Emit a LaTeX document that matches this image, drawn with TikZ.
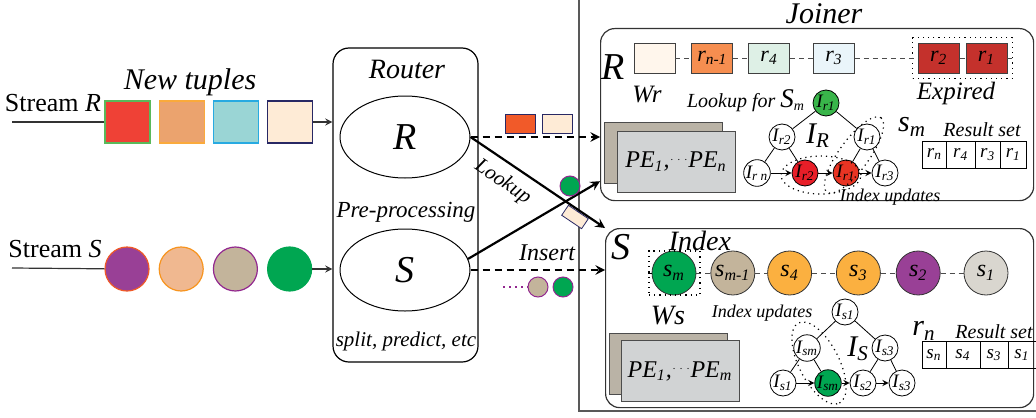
\documentclass[tikz,border=0pt]{standalone}
\usepackage{fontspec}
\setmainfont{Liberation Serif}
\usetikzlibrary{positioning,fit,shapes.geometric}
\definecolor{tupred}{RGB}{239,65,54}
\definecolor{tuporange}{RGB}{235,163,110}
\definecolor{tupteal}{RGB}{154,213,213}
\definecolor{tupcream}{RGB}{254,235,214}
\definecolor{bdgreen}{RGB}{90,185,90}
\definecolor{bdorange}{RGB}{250,170,60}
\definecolor{bdblue}{RGB}{40,170,225}
\definecolor{bdnavy}{RGB}{40,40,100}
\definecolor{spurple}{RGB}{153,64,150}
\definecolor{speach}{RGB}{240,184,144}
\definecolor{stan}{RGB}{195,180,155}
\definecolor{sgreen}{RGB}{0,166,81}
\definecolor{sorange}{RGB}{251,176,64}
\definecolor{sgray}{RGB}{217,214,207}
\definecolor{bdred}{RGB}{240,90,40}
\definecolor{bdpeach}{RGB}{247,148,30}
\definecolor{bdpurple}{RGB}{146,39,143}
\definecolor{msgred}{RGB}{241,90,41}
\definecolor{wcream}{RGB}{255,246,236}
\definecolor{worange}{RGB}{246,142,80}
\definecolor{wmint}{RGB}{222,240,230}
\definecolor{wice}{RGB}{234,245,250}
\definecolor{wred}{RGB}{196,49,44}
\definecolor{tgreen}{RGB}{57,181,74}
\definecolor{tred}{RGB}{232,30,40}
\definecolor{tredb}{RGB}{232,52,35}
\definecolor{peback}{RGB}{186,179,166}
\definecolor{pefront}{RGB}{209,211,212}

\begin{document}
\begin{tikzpicture}[x=.5pt,y=-.5pt,>=stealth]
\tikzset{lab/.style={font=\itshape,align=center},
  tup/.style={draw,line width=.6pt,minimum width=22.5pt,minimum height=21pt,inner sep=0},
  tupc/.style={circle,draw,line width=.6pt,minimum size=22pt,inner sep=0},
  mini/.style={circle,draw=bdpurple,line width=.5pt,minimum size=10pt,inner sep=0},
  ell/.style={ellipse,draw,line width=.5pt,minimum width=65pt,minimum height=41pt,font=\fontsize{19}{19}\selectfont\itshape},
  wbox/.style={draw=black!75,minimum width=20.5pt,minimum height=15pt,inner sep=0,font=\fontsize{11}{11}\selectfont\itshape},
  scirc/.style={circle,draw=black!80,minimum size=22pt,inner sep=0,font=\fontsize{12}{12}\selectfont\itshape},
  tn/.style={circle,draw,fill=white,minimum size=13pt,inner sep=0,font=\fontsize{9.5}{9.5}\selectfont\itshape},
  pe/.style={draw=black!70,minimum width=59pt,minimum height=30.5pt,font=\fontsize{12}{12}\selectfont\itshape},
  cell/.style={draw,minimum height=13.5pt,inner sep=0,outer sep=0,font=\fontsize{9.5}{9.5}\selectfont\itshape},
  dotfit/.style={draw,dotted,line width=.6pt,inner sep=0},
  upd/.style={ellipse,draw,dotted,line width=.6pt,inner sep=0},
  link/.style={draw=black!70,dash pattern=on 2.5pt off 2pt},
  flow/.style={->,line width=1.1pt,dash pattern=on 3.5pt off 2.5pt}}
\useasboundingbox (0,0) rectangle (1036,417);

% router
\node[draw,rounded corners=8pt,line width=.6pt,minimum width=72.5pt,minimum height=157pt] (rtr) at (405.5,205) {};
\node[lab,font=\fontsize{14}{14}\selectfont\itshape] (rtrlab) at (407,69) {Router};
\node[ell] (eR) at (405,137) {R};
\node[ell] (eS) at (405,270) {S};
\node[lab,font=\fontsize{11.5}{12}\selectfont\itshape] (prep) at (406,212) {Pre-processing};
\node[lab,font=\fontsize{10.5}{12}\selectfont\itshape] (split) at (406,341) {split, predict, etc};

% streams
\node[font=\fontsize{13}{14}\selectfont] (strR) at (53,103) {Stream \textit{R}};
\node[font=\fontsize{13}{14}\selectfont] (strS) at (55,249) {Stream \textit{S}};
\node[lab,font=\fontsize{15}{16}\selectfont\itshape] (newt) at (190,82) {New tuples};
\coordinate (inR) at (12,122);
\coordinate (inS) at (12,268);
\node[tup,fill=tupred,draw=bdgreen] (r1) at (127.5,122) {};
\node[tup,fill=tuporange,draw=bdorange,right=4pt of r1] (r2) {};
\node[tup,fill=tupteal,draw=bdblue,right=4pt of r2] (r3) {};
\node[tup,fill=tupcream,draw=bdnavy,right=4pt of r3] (r4) {};
\node[tupc,fill=spurple,draw=bdred] (s1) at (127,269) {};
\node[tupc,fill=speach,draw=bdpeach,right=4.5pt of s1] (s2) {};
\node[tupc,fill=stan,draw=bdpurple,right=4.5pt of s2] (s3) {};
\node[tupc,fill=sgreen,draw=sgreen,right=4.5pt of s3] (s4) {};
\draw[black!80,line width=.6pt] (inR) -- (r1);
\draw[black!80,line width=.6pt] (inS) -- (s1);
\draw[->,black!80,line width=.6pt] (r4) -- (r4 -| rtr.west);
\draw[->,black!80,line width=.6pt] (s4) -- (s4 -| rtr.west);

% joiner
\node[draw=black!65,line width=.8pt,minimum width=235pt,minimum height=207pt,anchor=north west,inner sep=0] (join) at (578,-4) {};
\node[lab,font=\fontsize{15}{16}\selectfont\itshape] (joinlab) at (824,14) {Joiner};
\node[draw=black!80,line width=.6pt,rounded corners=7pt,minimum width=216.5pt,minimum height=86pt,anchor=north west] (boxR) at (600,28) {};
\node[draw=black!80,line width=.6pt,rounded corners=7pt,minimum width=214pt,minimum height=89.5pt,anchor=north west] (boxS) at (605,228) {};

% R window
\node[lab,font=\fontsize{19}{19}\selectfont\itshape] (Rlab) at (613,67) {R};
\node[wbox,fill=wcream] (w1) at (654.5,58) {};
\node[wbox,fill=worange,right=8pt of w1] (w2) {r\textsubscript{n-1}};
\node[wbox,fill=wmint,right=7.5pt of w2] (w3) {r\textsubscript{4}};
\node[wbox,fill=wice,right=11.5pt of w3] (w4) {r\textsubscript{3}};
\node[wbox,fill=wred,right=31.5pt of w4] (w5) {r\textsubscript{2}};
\node[wbox,fill=wred,right=3pt of w5] (w6) {r\textsubscript{1}};
\node[dotfit,inner sep=2.5pt,fit=(w5)(w6)] (expbox) {};
\draw[link] (w1) -- (w2);
\draw[link] (w2) -- (w3);
\draw[link] (w3) -- (w4);
\draw[link] (w4) -- (w5);
\draw[link] (w5) -- (w6);
\draw[link] (w6) -- (expbox.east);
\node[lab,font=\fontsize{12.5}{13}\selectfont\itshape] (wr) at (647,95) {Wr};
\node[lab,font=\fontsize{12.5}{13}\selectfont\itshape] (expl) at (956,93) {Expired};
\node[lab,font=\fontsize{10}{11}\selectfont\itshape] (lkfor) at (746,101) {Lookup for {\fontsize{13.5}{14}\selectfont S}\textsubscript{m}};
\node[pe,fill=peback] (peRb) at (663,152.5) {};
\node[pe,fill=pefront] (peRf) at (676,161.5) {PE\textsubscript{1},\raisebox{.5ex}{\tiny$\cdots$}PE\textsubscript{n}};

% R index tree
\node[tn,fill=tgreen] (Rt) at (826,103) {I\textsubscript{r1}};
\node[tn] (Rl) at (782,137) {I\textsubscript{r2}};
\node[tn] (Rr) at (867,137) {I\textsubscript{r1}};
\node[tn] (Rb1) at (757,173) {I\textsubscript{r n}};
\node[tn,fill=tred] (Rb2) at (805,173) {I\textsubscript{r2}};
\node[tn,fill=tredb] (Rb3) at (846,173) {I\textsubscript{r1}};
\node[tn] (Rb4) at (885,173) {I\textsubscript{r3}};
\draw (Rt) -- (Rl);
\draw (Rt) -- (Rr);
\draw (Rl) -- (Rb1);
\draw (Rl) -- (Rb2);
\draw (Rr) -- (Rb3);
\draw (Rr) -- (Rb4);
\draw[->] (Rb1) -- (Rb2);
\draw[->] (Rb2) -- (Rb3);
\draw[->] (Rb3) -- (Rb4);
\node[lab,font=\fontsize{15}{15}\selectfont\itshape] (IR) at (818,136) {I\textsubscript{R}};
\node[upd,minimum width=40pt,minimum height=19pt] (updR1) at (821,175) {};
\node[upd,minimum width=46pt,minimum height=15pt,rotate=54] (updR2) at (854,155) {};
\node[lab,font=\fontsize{9}{9}\selectfont\itshape] (updRl) at (890,197) {Index updates};

% R result set
\node[lab,font=\fontsize{15}{15}\selectfont\itshape] (smlab) at (912,127) {s\textsubscript{m}};
\node[lab,font=\fontsize{10}{11}\selectfont\itshape] (resR) at (982,130) {Result set};
\node[cell,minimum width=11.75pt] (ra) at (934.5,154.5) {r\textsubscript{n}};
\node[cell,minimum width=14.5pt,right=0pt of ra] (rb) {r\textsubscript{4}};
\node[cell,minimum width=12.5pt,right=0pt of rb] (rc) {r\textsubscript{3}};
\node[cell,minimum width=13pt,right=0pt of rc] (rd) {r\textsubscript{1}};

% S window
\node[lab,font=\fontsize{19}{19}\selectfont\itshape] (Slab) at (621,247) {S};
\node[lab,font=\fontsize{14}{14}\selectfont\itshape] (idxl) at (700,241) {Index};
\node[scirc,fill=sgreen] (c1) at (674,273) {s\textsubscript{m}};
\node[scirc,fill=stan,right=7pt of c1] (c2) {s\textsubscript{m-1}};
\node[scirc,fill=sorange,right=6pt of c2] (c3) {s\textsubscript{4}};
\node[scirc,fill=sorange,right=12pt of c3] (c4) {s\textsubscript{3}};
\node[scirc,fill=spurple,right=7.5pt of c4] (c5) {s\textsubscript{2}};
\node[scirc,fill=sgray,right=11.5pt of c5] (c6) {s\textsubscript{1}};
\node[dotfit,minimum width=25.5pt,minimum height=22pt] (smbox) at (674.5,273) {};
\draw (smbox.west) -- (c1);
\draw[link] (c1) -- (c2);
\draw[link] (c2) -- (c3);
\draw[link] (c3) -- (c4);
\draw[link] (c4) -- (c5);
\draw[link] (c5) -- (c6);
\node[lab,font=\fontsize{14}{14}\selectfont\itshape] (ws) at (668,316) {Ws};
\node[lab,font=\fontsize{9}{9}\selectfont\itshape] (updSl) at (762,313) {Index updates};
\node[pe,fill=peback] (peSb) at (668,363.5) {};
\node[pe,fill=pefront] (peSf) at (680,371) {PE\textsubscript{1},\raisebox{.5ex}{\tiny$\cdots$}PE\textsubscript{m}};

% S index tree
\node[tn] (St) at (845,312) {I\textsubscript{s1}};
\node[tn] (Sl) at (807,348) {I\textsubscript{sm}};
\node[tn] (Sr) at (885,348) {I\textsubscript{s3}};
\node[tn] (Sb1) at (783,383) {I\textsubscript{s1}};
\node[tn,fill=sgreen] (Sb2) at (828,383) {I\textsubscript{sm}};
\node[tn] (Sb3) at (863,383) {I\textsubscript{s2}};
\node[tn] (Sb4) at (902,383) {I\textsubscript{s3}};
\draw (St) -- (Sl);
\draw (St) -- (Sr);
\draw (Sl) -- (Sb1);
\draw (Sl) -- (Sb2);
\draw (Sr) -- (Sb3);
\draw (Sr) -- (Sb4);
\draw[->] (Sb1) -- (Sb2);
\draw[->] (Sb2) -- (Sb3);
\draw[->] (Sb3) -- (Sb4);
\node[lab,font=\fontsize{15}{15}\selectfont\itshape] (IS) at (858,349) {I\textsubscript{S}};
\node[upd,minimum width=45pt,minimum height=20pt,rotate=-63] (updS) at (819,363) {};

% S result set
\node[lab,font=\fontsize{15}{15}\selectfont\itshape] (rnlab) at (924,331) {r\textsubscript{n}};
\node[lab,font=\fontsize{10}{11}\selectfont\itshape] (resS) at (994,332) {Result set};
\node[cell,minimum width=12pt] (sa) at (934,355) {s\textsubscript{n}};
\node[cell,minimum width=17pt,right=0pt of sa] (sb) {s\textsubscript{4}};
\node[cell,minimum width=14pt,right=0pt of sb] (sc) {s\textsubscript{3}};
\node[cell,minimum width=14pt,right=0pt of sc] (sd) {s\textsubscript{1}};

% router to joiner
\draw[flow] (eR.east) -- (eR.east -| boxR.west);
\draw[flow] (eS.east) -- (eS.east -| boxS.west);
\draw[->,line width=1.1pt] (eR.east) -- (boxS.north west) node[lab,sloped,below=1pt,pos=.32,font=\fontsize{10.5}{11}\selectfont\itshape] (lkup) {Lookup};
\draw[->,line width=1.1pt] (eS.10) -- ([yshift=10pt]boxR.south west);
\node[draw=bdnavy,fill=msgred,minimum width=15pt,minimum height=9.5pt,inner sep=0] (m1) at (520,123.5) {};
\node[draw=bdnavy,fill=tupcream,minimum width=15pt,minimum height=9.5pt,inner sep=0] (m2) at (557,123.5) {};
\node[mini,fill=sgreen] (m3) at (570,186) {};
\node[draw=bdnavy,fill=tupcream,minimum width=12pt,minimum height=6pt,inner sep=0,rotate=-34] (m4) at (575,217) {};
\node[lab,font=\fontsize{12}{12}\selectfont\itshape] (ins) at (547,253) {Insert};
\node[mini,fill=stan] (m5) at (538,287) {};
\node[mini,fill=sgreen] (m6) at (563,287) {};
\coordinate (dotst) at (503,287);
\draw[bdpurple,dotted,line width=1pt] (dotst) -- (m5);
\end{tikzpicture}
\end{document}
